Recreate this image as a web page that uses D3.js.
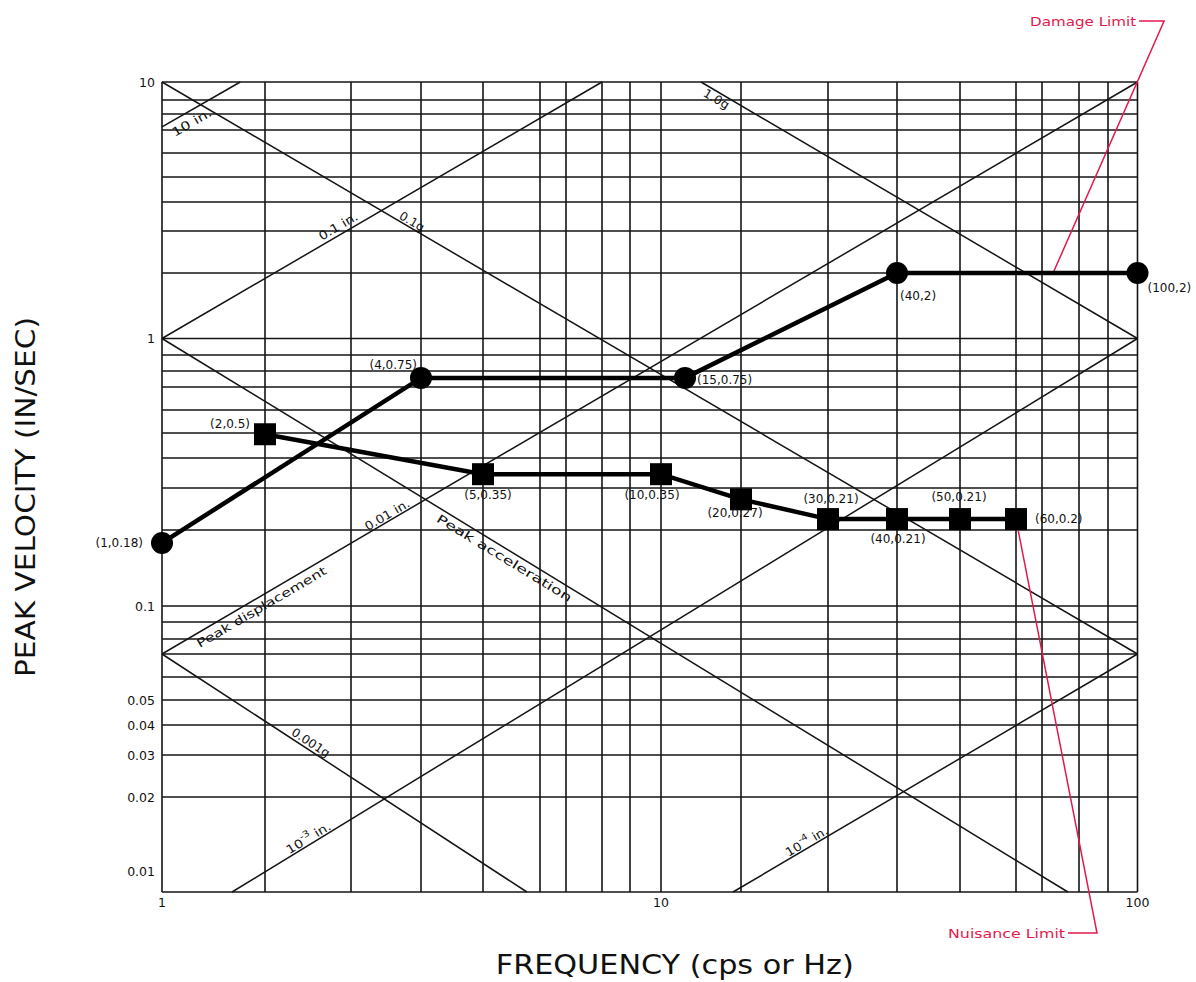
<!DOCTYPE html>
<html><head><meta charset="utf-8">
<script src="https://cdn.jsdelivr.net/npm/d3@7"></script>
<style>body{margin:0;background:#fff}svg{display:block}</style>
</head><body><svg id="c" width="1196" height="982"></svg>
<script>
// ---------------- DATA ----------------
const xGridVals = [1,2,3,4,5,6,7,8,9,10,20,30,40,50,60,70,80,90,100];
const yGridVals = [10,9,8,7,6,5,4,3,2,1,0.9,0.8,0.7,0.6,0.5,0.4,0.3,0.2,0.1,0.09,0.08,0.07,0.06,0.05,0.04,0.03,0.02];
const xTickLabels = [1,10,100];
const yTickLabels = [10,1,0.1,0.05,0.04,0.03,0.02,0.01];
const yMin = 0.0085;   // bottom edge of the chart (below 0.01)

// Damage limit series (circles)
const damageX = [1,4,13,40,100];
const damageY = [0.183,0.757,0.757,2,2];
const damageLabels = ["(1,0.18)","(4,0.75)","(15,0.75)","(40,2)","(100,2)"];
// Nuisance limit series (squares)
const nuisanceX = [2,5,10,20,30,40,50,60];
const nuisanceY = [0.495,0.346,0.346,0.273,0.226,0.226,0.226,0.226];
const nuisanceLabels = ["(2,0.5)","(5,0.35)","(10,0.35)","(20,0.27)","(30,0.21)","(40,0.21)","(50,0.21)","(60,0.2)"];

// Reference (displacement / acceleration) lines, endpoints in data units
const refX1 = [1,    1,  1,    1.68, 19,   1,    15, 1,    1];
const refY1 = [7.19, 1,  0.07, yMin, yMin, 10,   10, 1,    0.07];
const refX2 = [1.76, 8,  100,  100,  100,  100,  100, 77,  5.77];
const refY2 = [10,   10, 10,   1,    0.07, 0.07, 1,  yMin, yMin];
const refLabelText = ["10 in.","0.1 in.","0.01 in.","Peak  displacement","10|-3| in.","10|-4| in.","0.1g","1.0g","Peak  acceleration","0.001g"];
const refLabelLine = [0,1,2,2,3,4,5,6,7,8];

// Annotations
const annoText = ["Damage Limit","Nuisance Limit"];
const annoAnchorX = [73, 60];
const annoAnchorY = [2, 0.226];

// ---------------- LAYOUT ----------------
// calibration of the (hand drawn) grid: pixel position of each grid value
const X_PIX = [162,265,351,421,483,540,566,602,630,661,741,828,897,960,1016,1042,1079,1108,1137.5];
const Y_PIX = [82,100,114,130,153,177,202,231,273,338.5,355,371,387,410,433,458,488,530,606,622,639,654,677,700,725,755,797,871,892];
// label placement along each reference line: fraction t, perpendicular offset, text length
const refLabelLayout = [
  {t:0.31, off:11, len:44},
  {t:0.41, off:-8, len:43},
  {t:0.234, off:-6, len:50},
  {t:0.097, off:10, len:148},
  {t:0.088, off:-6, len:50},
  {t:0.19, off:-6, len:47},
  {t:0.253, off:-6, len:27},
  {t:0.043, off:7, len:28},
  {t:0.383, off:9, len:156},
  {t:0.397, off:-7, len:43}
];
const damageLabelLayout = [
  {dx:-19,dy:0,a:"end"},{dx:-4,dy:-13,a:"end"},{dx:12,dy:2,a:"start"},{dx:3,dy:23,a:"start"},{dx:10,dy:15,a:"start"}
];
const nuisanceLabelLayout = [
  {dx:-15,dy:-10,a:"end"},{dx:5,dy:21,a:"middle"},{dx:-9,dy:21,a:"middle"},{dx:-6,dy:14,a:"middle"},
  {dx:3,dy:-20,a:"middle"},{dx:1,dy:20,a:"middle"},{dx:-1,dy:-22,a:"middle"},{dx:19,dy:0,a:"start"}
];
const annoLayout = [
  {ex:111, ey:-252, hx:86, tx:83, ty:-251, len:106},
  {ex:81, ey:414, hx:52, tx:49, ty:415, len:117}
];
const RED = "#e3194d";
const GRID = "#141414";
const FONT = "'DejaVu Sans', 'Liberation Sans', sans-serif";

// ---------------- SCALES ----------------
const x = d3.scaleLinear().domain(xGridVals).range(X_PIX);
const y = d3.scaleLinear().domain(yGridVals.concat([0.01, yMin])).range(Y_PIX);

const svg = d3.select("#c");
const x0 = x(1), x1 = x(100), yTop = y(10), yBot = y(yMin);

// ---------------- GRID ----------------
const g = svg.append("g").attr("stroke", GRID).attr("stroke-width", 1.6).attr("fill","none");
g.selectAll("line.h").data(yGridVals.concat([yMin])).join("line")
  .attr("x1", x0).attr("x2", x1).attr("y1", d => y(d)).attr("y2", d => y(d));
g.selectAll("line.v").data(xGridVals).join("line").attr("class","v")
  .attr("x1", d => x(d)).attr("x2", d => x(d)).attr("y1", yTop).attr("y2", yBot);

// ---------------- REFERENCE LINES ----------------
const refIdx = d3.range(refX1.length);
svg.append("g").attr("stroke", GRID).attr("stroke-width", 1.5)
  .selectAll("line").data(refIdx).join("line")
  .attr("x1", i => x(refX1[i])).attr("y1", i => y(refY1[i]))
  .attr("x2", i => x(refX2[i])).attr("y2", i => y(refY2[i]));

const rl = svg.append("g").attr("font-family", FONT).attr("font-size", 12).attr("fill", "#111");
refLabelText.forEach((txt, k) => {
  const i = refLabelLine[k], L = refLabelLayout[k];
  const ax = x(refX1[i]), ay = y(refY1[i]), bx = x(refX2[i]), by = y(refY2[i]);
  const px = ax + L.t * (bx - ax), py = ay + L.t * (by - ay);
  const ang = Math.atan2(by - ay, bx - ax) * 180 / Math.PI;
  const t = rl.append("text")
    .attr("transform", `translate(${px},${py}) rotate(${ang})`)
    .attr("x", 0).attr("y", L.off)
    .attr("text-anchor", "middle").attr("dominant-baseline", "central")
    .attr("textLength", L.len).attr("lengthAdjust", "spacingAndGlyphs");
  const parts = txt.split("|");
  if (parts.length === 3) {
    t.append("tspan").text(parts[0]);
    t.append("tspan").attr("dy", -5).attr("font-size", 9).text(parts[1]);
    t.append("tspan").attr("dy", 5).text(parts[2]);
  } else {
    t.text(txt);
  }
});

// ---------------- ANNOTATIONS ----------------
const an = svg.append("g");
annoText.forEach((txt, i) => {
  const L = annoLayout[i];
  const ax = x(annoAnchorX[i]), ay = y(annoAnchorY[i]);
  an.append("polyline")
    .attr("points", [[ax, ay], [ax + L.ex, ay + L.ey], [ax + L.hx, ay + L.ey]].map(p => p.join(",")).join(" "))
    .attr("fill", "none").attr("stroke", RED).attr("stroke-width", 1.5);
  an.append("text").attr("x", ax + L.tx).attr("y", ay + L.ty)
    .attr("text-anchor", "end").attr("dominant-baseline", "central")
    .attr("font-family", FONT).attr("font-size", 11.5).attr("fill", RED)
    .attr("textLength", L.len).attr("lengthAdjust", "spacingAndGlyphs")
    .text(txt);
});

// ---------------- SERIES ----------------
const line = d3.line().x(d => x(d[0])).y(d => y(d[1]));
const dmg = damageX.map((v, i) => [v, damageY[i]]);
const nui = nuisanceX.map((v, i) => [v, nuisanceY[i]]);
svg.append("path").attr("d", line(dmg)).attr("fill","none").attr("stroke","#000").attr("stroke-width",4.5);
svg.append("path").attr("d", line(nui)).attr("fill","none").attr("stroke","#000").attr("stroke-width",4.5);

svg.append("g").selectAll("circle").data(dmg).join("circle")
  .attr("cx", d => x(d[0])).attr("cy", d => y(d[1])).attr("r", 11).attr("fill", "#000");
svg.append("g").selectAll("rect").data(nui).join("rect")
  .attr("x", d => x(d[0]) - 11).attr("y", d => y(d[1]) - 11)
  .attr("width", 22).attr("height", 22).attr("fill", "#000");

const pl = svg.append("g").attr("font-family", FONT).attr("font-size", 12).attr("fill", "#111");
pl.selectAll("text.d").data(dmg).join("text").attr("class","d")
  .attr("x", (d, i) => x(d[0]) + damageLabelLayout[i].dx)
  .attr("y", (d, i) => y(d[1]) + damageLabelLayout[i].dy)
  .attr("text-anchor", (d, i) => damageLabelLayout[i].a)
  .attr("dominant-baseline", "central")
  .text((d, i) => damageLabels[i]);
pl.selectAll("text.n").data(nui).join("text").attr("class","n")
  .attr("x", (d, i) => x(d[0]) + nuisanceLabelLayout[i].dx)
  .attr("y", (d, i) => y(d[1]) + nuisanceLabelLayout[i].dy)
  .attr("text-anchor", (d, i) => nuisanceLabelLayout[i].a)
  .attr("dominant-baseline", "central")
  .text((d, i) => nuisanceLabels[i]);

// ---------------- AXES ----------------
const ax = svg.append("g").attr("font-family", FONT).attr("font-size", 12.5).attr("fill", "#111");
ax.selectAll("text.yt").data(yTickLabels).join("text").attr("class","yt")
  .attr("x", x0 - 7).attr("y", d => y(d)).attr("text-anchor", "end")
  .attr("dominant-baseline", "central").text(d => String(d));
ax.selectAll("text.xt").data(xTickLabels).join("text").attr("class","xt")
  .attr("x", d => x(d)).attr("y", yBot + 10).attr("text-anchor", "middle")
  .attr("dominant-baseline", "central").text(d => String(d));

svg.append("text")
  .attr("transform", `translate(25,${(yTop + yBot) / 2 + 10}) rotate(-90)`)
  .attr("text-anchor", "middle").attr("dominant-baseline", "central")
  .attr("font-family", FONT).attr("font-size", 27).attr("fill", "#111")
  .attr("textLength", 360).attr("lengthAdjust", "spacingAndGlyphs")
  .text("PEAK VELOCITY (IN/SEC)");
svg.append("text")
  .attr("x", (x0 + x1) / 2 + 25).attr("y", 974)
  .attr("text-anchor", "middle")
  .attr("font-family", FONT).attr("font-size", 27).attr("fill", "#111")
  .attr("textLength", 358).attr("lengthAdjust", "spacingAndGlyphs")
  .text("FREQUENCY (cps or Hz)");
</script>
</body></html>
